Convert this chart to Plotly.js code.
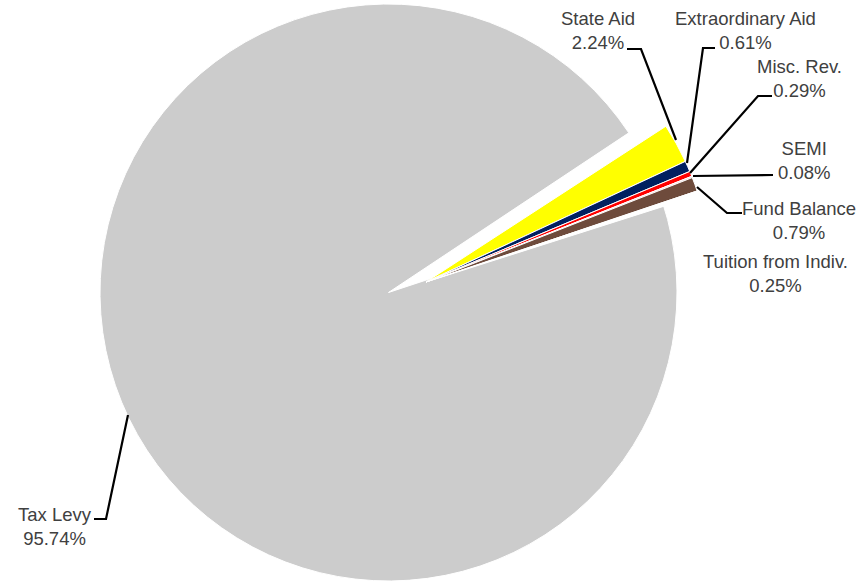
<!DOCTYPE html>
<html>
<head>
<meta charset="utf-8">
<script src="https://cdn.plot.ly/plotly-3.0.1.min.js"></script>
<style>
  html, body { margin: 0; padding: 0; overflow: hidden; background: #fff; }
  #chart { position: absolute; left: 0; top: -10px; }
</style>
</head>
<body>
<div id="chart"></div>
<script>
// ---- data ----
const labels = ['State Aid', 'Extraordinary Aid', 'Misc. Rev.', 'SEMI', 'Fund Balance', 'Tuition from Indiv.', 'Tax Levy'];
const values = [2.24, 0.61, 0.29, 0.08, 0.79, 0.25, 95.74];
const colors = ['#FFFF00', '#002060', '#FF0000', '#F4CCCC', '#6E4B3C', '#FFFFFF', '#CCCCCC'];

// ---- layout helpers (pixel -> paper fraction) ----
const W = 866, H = 593, T = 10;
const fx = x => x / W;
const fy = y => 1 - (y + T) / H;

const mainIdx = labels.length - 1; // Tax Levy stays in place, the rest are exploded
const transparent = 'rgba(0,0,0,0)';

const colorsMain = colors.map((c, i) => i === mainIdx ? c : transparent);
const colorsSmall = colors.map((c, i) => i === mainIdx ? transparent : c);
const lwMain = colors.map((c, i) => i === mainIdx ? 1 : 0);
const lwSmall = colors.map((c, i) => i === mainIdx ? 0 : 1);

const common = {
  type: 'pie', labels: labels, values: values, sort: false,
  direction: 'clockwise', textinfo: 'none',
  hoverinfo: 'label+percent', showlegend: false
};

const traceMain = Object.assign({}, common, {
  rotation: 56.4,
  marker: { colors: colorsMain, line: { color: '#FFFFFF', width: lwMain } },
  domain: { x: [fx(100), fx(677)], y: [fy(581), fy(4)] }
});
const traceSmall = Object.assign({}, common, {
  rotation: 57,
  marker: { colors: colorsSmall, line: { color: '#FFFFFF', width: lwSmall } },
  domain: { x: [fx(140), fx(712)], y: [fy(568), fy(-4)] }
});

// label positions (centre of the two-line label) and leader lines, in pixels
const labelPos = [[597.5, 30], [745, 30], [799, 78], [804, 160], [799, 220], [775.5, 273.5], [55, 526.5]];
const leaders = [
  [[627, 49], [641, 49], [676, 140]],
  [[715, 48], [703, 48], [687, 163]],
  [[772, 96], [758, 96], [690, 173]],
  [[773, 175], [693, 176]],
  [[742, 213], [727, 213], [697, 187]],
  null,
  [[94, 519], [106, 519], [128, 415]]
];

const annotations = labels.map((lab, i) => ({
  xref: 'paper', yref: 'paper',
  x: fx(labelPos[i][0]), y: fy(labelPos[i][1]),
  xanchor: 'center', yanchor: 'middle', align: 'center',
  text: lab + '<br>' + values[i].toFixed(2) + '%',
  showarrow: false,
  font: { family: 'Liberation Sans, Arial, sans-serif', size: 18.5, color: '#404040' }
}));

const shapes = leaders.filter(l => l).map(pts => ({
  type: 'path', xref: 'paper', yref: 'paper',
  path: pts.map((p, k) => (k ? 'L' : 'M') + fx(p[0]) + ',' + fy(p[1])).join(' '),
  line: { color: '#000000', width: 2.2 }
}));

const layout = {
  width: W, height: H, autosize: false,
  margin: { l: 0, r: 0, t: 0, b: 0, pad: 0 },
  paper_bgcolor: '#FFFFFF', plot_bgcolor: '#FFFFFF',
  annotations: annotations, shapes: shapes
};

Plotly.newPlot('chart', [traceMain, traceSmall], layout, { displayModeBar: false, staticPlot: true });
</script>
</body>
</html>
